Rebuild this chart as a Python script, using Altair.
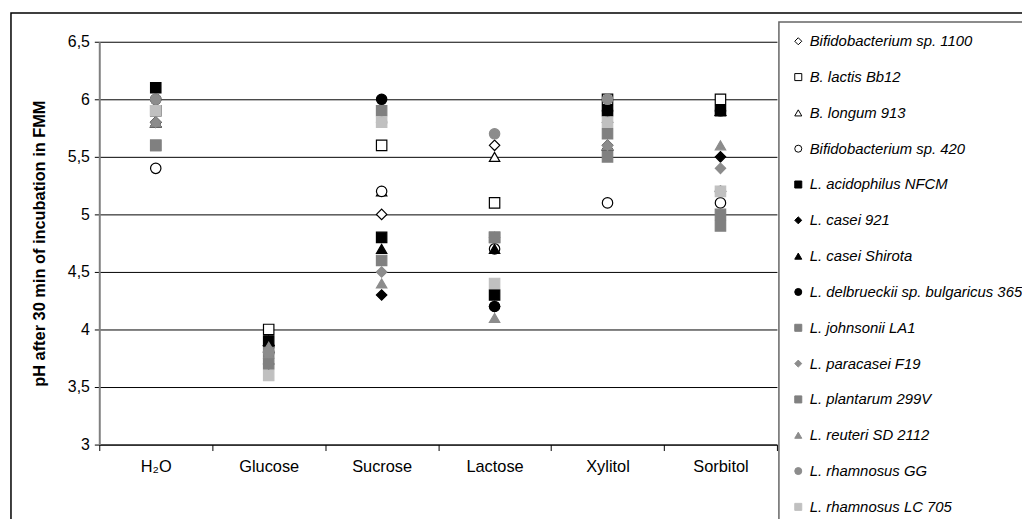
import altair as alt
import pandas as pd

categories = ["H\u2082O", "Glucose", "Sucrose", "Lactose", "Xylitol", "Sorbitol"]

strains = [
    "Bifidobacterium sp. 1100",
    "B. lactis Bb12",
    "B. longum 913",
    "Bifidobacterium sp. 420",
    "L. acidophilus NFCM",
    "L. casei 921",
    "L. casei Shirota",
    "L. delbrueckii sp. bulgaricus 365",
    "L. johnsonii LA1",
    "L. paracasei F19",
    "L. plantarum 299V",
    "L. reuteri SD 2112",
    "L. rhamnosus GG",
    "L. rhamnosus LC 705",
]

bifido_1100 = [5.8, 3.7, 5.0, 5.6, 5.8, 5.2]
lactis_bb12 = [5.9, 4.0, 5.6, 5.1, 6.0, 6.0]
longum_913 = [5.8, 3.9, 5.2, 5.5, 5.6, 5.9]
bifido_420 = [5.4, 3.8, 5.2, 4.7, 5.1, 5.1]
acidophilus = [6.1, 3.9, 4.8, 4.3, 5.9, 5.9]
casei_921 = [5.8, 3.8, 4.3, 4.2, 5.6, 5.5]
casei_shirota = [5.8, 3.9, 4.7, 4.7, 5.6, 5.9]
delbrueckii = [6.0, 3.85, 6.0, 4.2, 5.9, 5.9]
johnsonii = [5.6, 3.8, 5.9, 4.8, 5.5, 5.0]
paracasei = [5.8, 3.75, 4.5, 4.8, 5.6, 5.4]
plantarum = [5.6, 3.7, 4.6, 4.8, 5.7, 4.9]
reuteri = [5.8, 3.85, 4.4, 4.1, 5.6, 5.6]
rhamnosus_gg = [6.0, 3.8, 5.8, 5.7, 6.0, 5.2]
rhamnosus_lc705 = [5.9, 3.6, 5.8, 4.4, 5.8, 5.2]

series = [bifido_1100, lactis_bb12, longum_913, bifido_420, acidophilus,
          casei_921, casei_shirota, delbrueckii, johnsonii, paracasei,
          plantarum, reuteri, rhamnosus_gg, rhamnosus_lc705]

shapes = ["diamond", "square", "triangle-up", "circle", "square", "diamond",
          "triangle-up", "circle", "square", "diamond", "square",
          "triangle-up", "circle", "square"]
fills = ["#ffffff", "#ffffff", "#ffffff", "#ffffff", "#000000", "#000000",
         "#000000", "#000000", "#808080", "#8c8c8c", "#808080", "#8c8c8c",
         "#8c8c8c", "#c0c0c0"]
strokes = ["#000000", "#000000", "#000000", "#000000", "#000000", "#000000",
           "#000000", "#000000", "#808080", "#8c8c8c", "#808080", "#8c8c8c",
           "#8c8c8c", "#c0c0c0"]

rows = []
order = 0
for s, vals in zip(strains, series):
    for c, v in zip(categories, vals):
        rows.append({"strain": s, "cat": c, "ph": v, "order": order})
        order += 1
df = pd.DataFrame(rows)

FONT = "Liberation Sans"

points = alt.Chart(df).mark_point(filled=True, size=110, strokeWidth=1.2, opacity=1).encode(
    x=alt.X("cat:N", sort=categories,
            scale=alt.Scale(domain=categories, paddingInner=0, paddingOuter=0),
            axis=alt.Axis(title=None, labelAngle=0, tickBand="extent", grid=False,
                          domainColor="#000000", tickColor="#000000", tickSize=6,
                          labelFontSize=16.5, labelPadding=8, labelFont=FONT,
                          labelColor="#000000")),
    y=alt.Y("ph:Q", scale=alt.Scale(domain=[3, 6.5], nice=False),
            axis=alt.Axis(title="pH after 30 min of incubation in FMM",
                          values=[3, 3.5, 4, 4.5, 5, 5.5, 6, 6.5],
                          labelExpr="replace(format(datum.value, '.1~f'), '.', ',')",
                          grid=True, gridColor="#000000", gridWidth=1,
                          domainColor="#808080", domainWidth=2,
                          tickColor="#000000", tickSize=5,
                          labelFontSize=16, labelFont=FONT, labelColor="#000000",
                          labelPadding=5,
                          titleFontSize=16.5, titleFont=FONT, titleFontWeight="bold",
                          titleColor="#000000", titlePadding=20)),
    shape=alt.Shape("strain:N", scale=alt.Scale(domain=strains, range=shapes),
                    legend=alt.Legend(title=None)),
    fill=alt.Fill("strain:N", scale=alt.Scale(domain=strains, range=fills),
                  legend=alt.Legend(title=None)),
    stroke=alt.Stroke("strain:N", scale=alt.Scale(domain=strains, range=strokes),
                      legend=alt.Legend(title=None)),
    order=alt.Order("order:Q"),
)

frame = alt.Chart(pd.DataFrame({"a": [0]})).mark_rect(
    fill=None, stroke="#000000", strokeWidth=1.5
).encode(
    x=alt.value(-89), x2=alt.value(1000), y=alt.value(-29), y2=alt.value(540)
)

chart = alt.layer(frame, points).properties(
    width=683, height=406,
    autosize=alt.AutoSizeParams(type="none"),
    padding={"left": 92, "top": 32, "right": 247, "bottom": 73},
).configure_view(
    stroke=None
).configure_legend(
    orient="none", legendX=685, legendY=-20,
    strokeColor="#666666", strokeWidth=1.5, fillColor="#ffffff",
    padding=12, rowPadding=20.1, symbolSize=50, symbolStrokeWidth=1,
    labelFont=FONT, labelFontSize=15, labelFontStyle="italic",
    labelColor="#000000", labelLimit=400, labelOffset=4,
)

chart.save("out.html", embed_options={"renderer": "svg", "actions": False})
